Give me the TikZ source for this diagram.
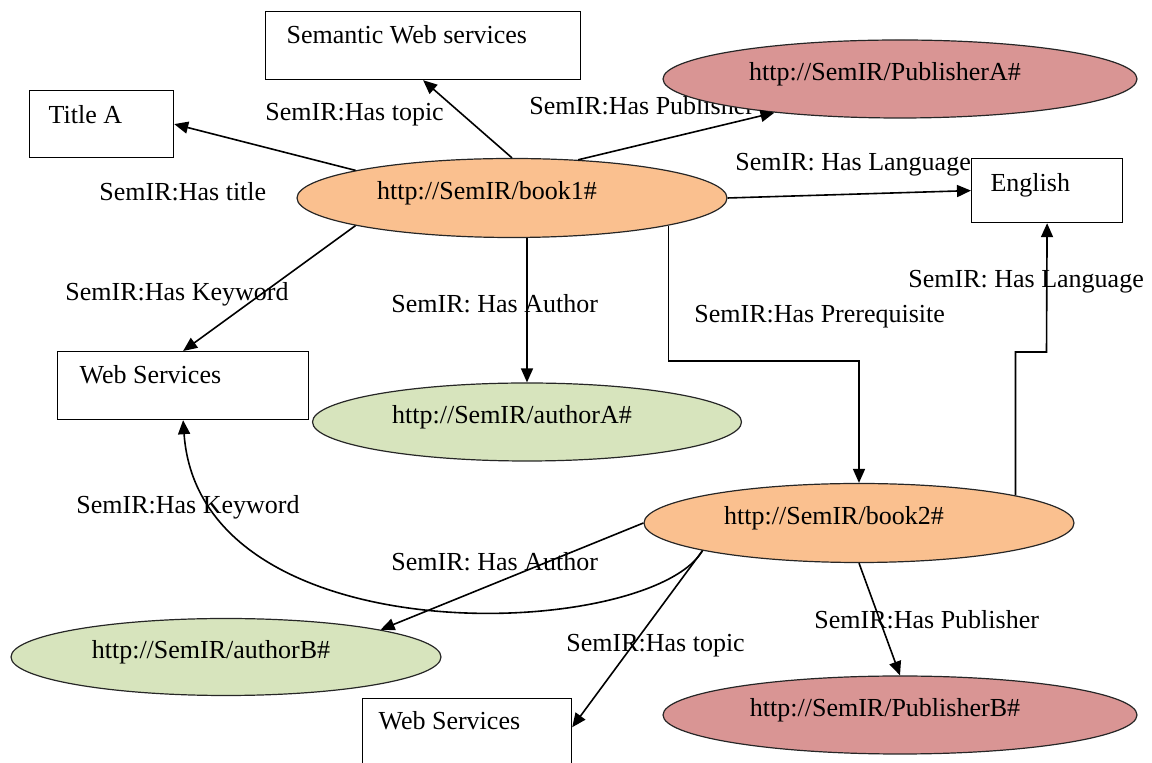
\documentclass[tikz,border=0pt]{standalone}
\usepackage{fontspec}
\setmainfont{Liberation Serif}
\usepackage{tikz}
\usetikzlibrary{arrows.meta}
\usetikzlibrary{shapes.geometric}
\definecolor{book fill}{RGB}{250,192,143}
\definecolor{publisher fill}{RGB}{217,149,148}
\definecolor{author fill}{RGB}{215,228,189}

\begin{document}
\begin{tikzpicture}[x=0.5pt, y=-0.5pt,
		every node/.style={font=\fontsize{13}{15}\selectfont},
		res/.style={ellipse, draw=black!85, line width=0.6pt, inner sep=0pt, text height=8pt, text depth=6pt},
		lit/.style={rectangle, draw, line width=0.6pt, anchor=north west, align=flush left, inner ysep=0pt},
		rel/.style={anchor=base west, inner sep=0pt},
		link/.style={line width=0.8pt, -{Triangle[length=7pt,width=6pt]}}]
			\useasboundingbox (0,0) rectangle (1152,763);
			% relation labels
			\node[rel] (lbl title) at (99,201){SemIR:Has title};
			\node[rel] (lbl topic1) at (265,121){SemIR:Has topic};
			\node[rel] (lbl pub1) at (529,115){SemIR:Has Publisher};
			\node[rel] (lbl lang1) at (735,171){SemIR: Has Language};
			\node[rel] (lbl kw1) at (65,301){SemIR:Has Keyword};
			\node[rel] (lbl au1) at (391,313){SemIR: Has Author};
			\node[rel] (lbl prereq) at (694,323){SemIR:Has Prerequisite};
			\node[rel] (lbl lang2) at (908,288){SemIR: Has Language};
			\node[rel] (lbl kw2) at (76,514){SemIR:Has Keyword};
			\node[rel] (lbl au2) at (391,571){SemIR: Has Author};
			\node[rel] (lbl topic2) at (566,652){SemIR:Has topic};
			\node[rel] (lbl pub2) at (814,629){SemIR:Has Publisher};
			% literal boxes
			\node[lit, inner xsep=10.5pt, text width=136.5pt, text height=16pt, text depth=18pt] (sws) at (265,11){Semantic Web services};
			\node[lit, inner xsep=9.5pt, text width=53pt, text height=16.5pt, text depth=17pt] (title) at (29,90){Title A};
			\node[lit, inner xsep=11pt, text width=103.5pt, text height=16pt, text depth=18pt] (web1) at (57,351){Web Services};
			\node[lit, inner xsep=9.5pt, text width=56.5pt, text height=16.5pt, text depth=15.5pt] (en) at (971,158){English};
			\node[lit, inner xsep=8pt, text width=88.5pt, text height=15.5pt, text depth=20.5pt] (web2) at (362,698){Web Services};
			% resources
			\node[res, fill=publisher fill, minimum width=237pt, minimum height=39pt] (pA) at (900,79){http://SemIR/PublisherA\#\hspace*{15pt}};
			\node[res, fill=book fill, minimum width=215pt, minimum height=39.5pt] (b1) at (512,198){http://SemIR/book1\#\hspace*{25pt}};
			\node[res, fill=author fill, minimum width=214.5pt, minimum height=39pt] (aA) at (527,422){http://SemIR/authorA\#\hspace*{15pt}};
			\node[res, fill=book fill, minimum width=215pt, minimum height=39.5pt] (b2) at (859,523){http://SemIR/book2\#\hspace*{25pt}};
			\node[res, fill=author fill, minimum width=215pt, minimum height=38.5pt] (aB) at (226,657){http://SemIR/authorB\#\hspace*{15pt}};
			\node[res, fill=publisher fill, minimum width=237pt, minimum height=39pt] (pB) at (900,715){http://SemIR/PublisherB\#\hspace*{15pt}};
			% book1
			\draw[link] (b1.170) -- (title.east);
			\draw[link] (b1.north) -- (sws.south);
			\draw[link] (b1.30) -- (pA.195);
			\draw[link] (b1.east) -- (en.west);
			\draw[link] (b1.190) -- (web1.north);
			\draw[link] (aA.north |- b1.south) -- (aA.north);
			\coordinate (pq) at (859,361);
			\draw[link] (b1.-10) |- (pq) -- (b2.north);
			% book2
			\coordinate (lg) at (1046.5,352);
			\draw[link] (b2.10) |- (lg) -- (en.south);
			\draw[link] (b2.190) .. controls (650,640) and (200,660) .. (web1.south);
			\draw[link] (b2.west) -- (aB.10);
			\draw[link] (b2.190) -- (web2.4);
			\draw[link] (b2.south) -- (pB.north);
		\end{tikzpicture}
\end{document}
